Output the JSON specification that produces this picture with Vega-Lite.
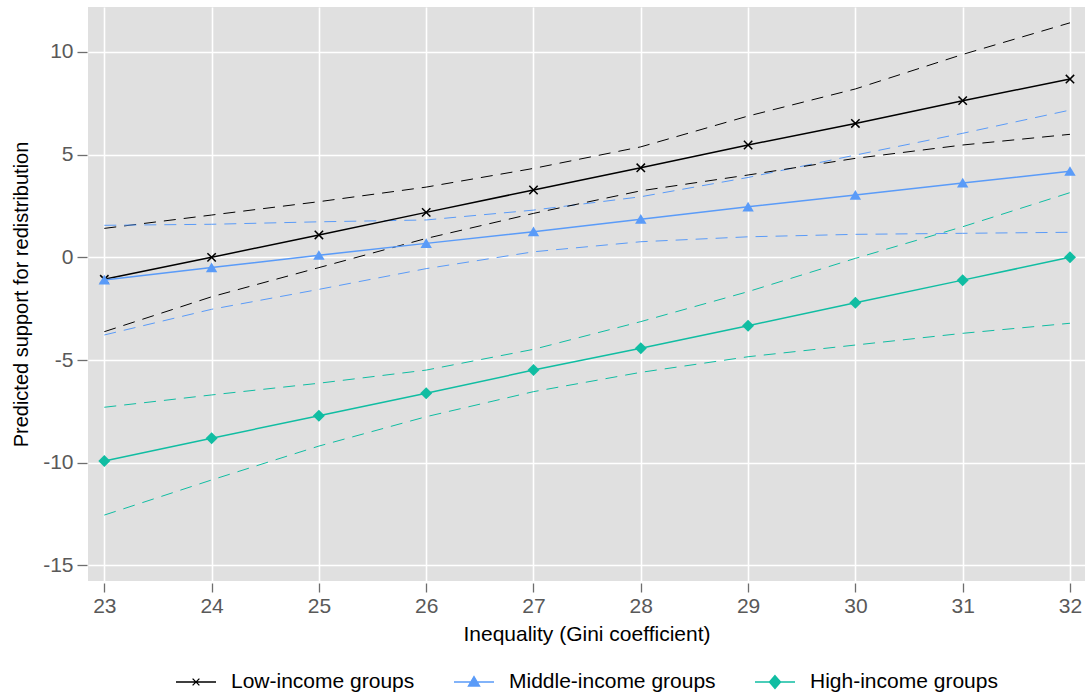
{
  "$schema": "https://vega.github.io/schema/vega-lite/v6.json",
  "autosize": {"type": "none"},
  "padding": {"left": 88, "top": 7, "right": 0, "bottom": 112},
  "width": 997,
  "height": 574,
  "background": "#ffffff",
  "config": {
    "font": "Liberation Sans",
    "view": {"fill": "#e0e0e0", "stroke": null},
    "axis": {
      "domain": false,
      "grid": true,
      "gridColor": "#ffffff",
      "gridWidth": 1.6,
      "tickColor": "#6e6e6e",
      "tickWidth": 1.3,
      "labelColor": "#595959",
      "labelFont": "Liberation Sans",
      "labelFontSize": 21,
      "labelExpr": "toString(datum.value)",
      "titleFont": "Liberation Sans",
      "titleFontSize": 21,
      "titleFontWeight": "normal",
      "titleColor": "#000000"
    },
    "legend": {
      "title": null,
      "orient": "bottom",
      "direction": "horizontal",
      "symbolSize": 1600,
      "symbolOpacity": 1,
      "symbolStrokeWidth": 1.3,
      "labelFont": "Liberation Sans",
      "labelFontSize": 21,
      "labelColor": "#000000",
      "labelLimit": 400,
      "labelOffset": 14,
      "columnPadding": 36,
      "offset": 17,
      "layout": {"bottom": {"anchor": "middle"}}
    }
  },
  "data": {
    "values": [
      {"gini": 23, "group": "Low-income groups", "est": -1.07, "lo": -3.62, "hi": 1.41},
      {"gini": 24, "group": "Low-income groups", "est": 0.0, "lo": -1.92, "hi": 2.06},
      {"gini": 25, "group": "Low-income groups", "est": 1.09, "lo": -0.5, "hi": 2.71},
      {"gini": 26, "group": "Low-income groups", "est": 2.19, "lo": 0.92, "hi": 3.42},
      {"gini": 27, "group": "Low-income groups", "est": 3.28, "lo": 2.14, "hi": 4.33},
      {"gini": 28, "group": "Low-income groups", "est": 4.36, "lo": 3.24, "hi": 5.38},
      {"gini": 29, "group": "Low-income groups", "est": 5.47, "lo": 4.01, "hi": 6.88},
      {"gini": 30, "group": "Low-income groups", "est": 6.52, "lo": 4.82, "hi": 8.2},
      {"gini": 31, "group": "Low-income groups", "est": 7.63, "lo": 5.47, "hi": 9.88},
      {"gini": 32, "group": "Low-income groups", "est": 8.68, "lo": 5.99, "hi": 11.42},
      {"gini": 23, "group": "Middle-income groups", "est": -1.1, "lo": -3.78, "hi": 1.56},
      {"gini": 24, "group": "Middle-income groups", "est": -0.5, "lo": -2.53, "hi": 1.61},
      {"gini": 25, "group": "Middle-income groups", "est": 0.1, "lo": -1.56, "hi": 1.73},
      {"gini": 26, "group": "Middle-income groups", "est": 0.68, "lo": -0.55, "hi": 1.82},
      {"gini": 27, "group": "Middle-income groups", "est": 1.25, "lo": 0.27, "hi": 2.3},
      {"gini": 28, "group": "Middle-income groups", "est": 1.86, "lo": 0.76, "hi": 2.95},
      {"gini": 29, "group": "Middle-income groups", "est": 2.46, "lo": 1.0, "hi": 3.89},
      {"gini": 30, "group": "Middle-income groups", "est": 3.03, "lo": 1.12, "hi": 4.98},
      {"gini": 31, "group": "Middle-income groups", "est": 3.62, "lo": 1.17, "hi": 6.04},
      {"gini": 32, "group": "Middle-income groups", "est": 4.19, "lo": 1.22, "hi": 7.17},
      {"gini": 23, "group": "High-income groups", "est": -9.92, "lo": -12.55, "hi": -7.3},
      {"gini": 24, "group": "High-income groups", "est": -8.81, "lo": -10.84, "hi": -6.7},
      {"gini": 25, "group": "High-income groups", "est": -7.71, "lo": -9.19, "hi": -6.13},
      {"gini": 26, "group": "High-income groups", "est": -6.62, "lo": -7.76, "hi": -5.49},
      {"gini": 27, "group": "High-income groups", "est": -5.49, "lo": -6.54, "hi": -4.48},
      {"gini": 28, "group": "High-income groups", "est": -4.43, "lo": -5.6, "hi": -3.13},
      {"gini": 29, "group": "High-income groups", "est": -3.33, "lo": -4.84, "hi": -1.67},
      {"gini": 30, "group": "High-income groups", "est": -2.21, "lo": -4.27, "hi": -0.05},
      {"gini": 31, "group": "High-income groups", "est": -1.11, "lo": -3.7, "hi": 1.49},
      {"gini": 32, "group": "High-income groups", "est": 0.0, "lo": -3.21, "hi": 3.15}
    ]
  },
  "encoding": {
    "x": {
      "field": "gini",
      "type": "quantitative",
      "scale": {"domain": [22.848, 32.14], "nice": false, "zero": false},
      "axis": {
        "title": "Inequality (Gini coefficient)",
        "values": [23, 24, 25, 26, 27, 28, 29, 30, 31, 32],
        "tickSize": 9,
        "offset": 2,
        "labelPadding": 3,
        "titlePadding": 7
      }
    },
    "color": {
      "field": "group",
      "type": "nominal",
      "scale": {
        "domain": ["Low-income groups", "Middle-income groups", "High-income groups"],
        "range": ["#000000", "#5a9bf8", "#10bda2"]
      },
      "legend": {
        "encode": {
          "symbols": {
            "update": {
              "stroke": {"scale": "color", "field": "value"},
              "strokeWidth": {"value": 1.3},
              "opacity": {"value": 1}
            }
          }
        }
      }
    }
  },
  "layer": [
    {
      "mark": {"type": "line", "strokeWidth": 1, "strokeDash": [12, 8]},
      "encoding": {
        "y": {
          "field": "hi",
          "type": "quantitative",
          "scale": {"domain": [-15.76, 12.19], "nice": false, "zero": false},
          "axis": {
            "title": "Predicted support for redistribution",
            "titleFontSize": 20,
            "values": [-15, -10, -5, 0, 5, 10],
            "tickSize": 10,
            "offset": 1,
            "labelPadding": 4,
            "titlePadding": 11
          }
        }
      }
    },
    {
      "mark": {"type": "line", "strokeWidth": 1, "strokeDash": [12, 8]},
      "encoding": {"y": {"field": "lo", "type": "quantitative"}}
    },
    {
      "mark": {"type": "line", "strokeWidth": 1.5},
      "encoding": {"y": {"field": "est", "type": "quantitative"}}
    },
    {
      "transform": [{"filter": "datum.group === 'Low-income groups'"}],
      "mark": {"type": "point", "shape": "M-1,-1L1,1M-1,1L1,-1", "size": 70, "filled": false, "strokeWidth": 1.5, "opacity": 1},
      "encoding": {"y": {"field": "est", "type": "quantitative"}}
    },
    {
      "transform": [{"filter": "datum.group === 'Middle-income groups'"}],
      "mark": {"type": "point", "shape": "M0,-0.9L1,0.8L-1,0.8Z", "size": 130, "filled": true, "opacity": 1},
      "encoding": {"y": {"field": "est", "type": "quantitative"}}
    },
    {
      "transform": [{"filter": "datum.group === 'High-income groups'"}],
      "mark": {"type": "point", "shape": "diamond", "size": 144, "filled": true, "opacity": 1},
      "encoding": {"y": {"field": "est", "type": "quantitative"}}
    },
    {
      "mark": {"type": "point", "filled": true, "opacity": 0},
      "encoding": {
        "y": {"field": "est", "type": "quantitative"},
        "shape": {
          "field": "group",
          "type": "nominal",
          "scale": {
            "domain": ["Low-income groups", "Middle-income groups", "High-income groups"],
            "range": [
              "M-1,0H1M-0.17,-0.17L0.17,0.17M-0.17,0.17L0.17,-0.17",
              "M-1,0H1M0,-0.27L0.28,0.2L-0.28,0.2Z",
              "M-1,0H1M0,-0.32L0.28,0L0,0.32L-0.28,0Z"
            ]
          },
          "legend": {
            "encode": {
              "symbols": {
                "update": {
                  "stroke": {"scale": "color", "field": "value"},
                  "strokeWidth": {"value": 1.3},
                  "opacity": {"value": 1}
                }
              }
            }
          }
        }
      }
    }
  ]
}
